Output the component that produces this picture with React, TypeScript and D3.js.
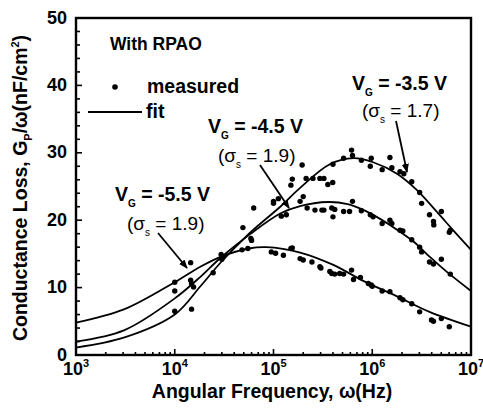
import React from "react";
import * as d3 from "d3";

// Fit curves: [angular frequency (Hz), Gp/ω (nF/cm²)]
const fit35: [number, number][] = [
  [1e3, 1.1], [3.1e3, 2.6], [1e4, 6.0], [1.82e4, 10.2], [2.95e4, 13.8], [5.75e4, 18.1],
  [1.17e5, 22.0], [1.86e5, 24.8], [3.72e5, 28.3], [6.46e5, 29.2], [1.02e6, 28.6],
  [1.78e6, 26.9], [2.82e6, 24.5], [4.47e6, 21.3], [6.61e6, 18.5], [1e7, 15.6],
];
const fit45: [number, number][] = [
  [1e3, 2.0], [3.1e3, 3.7], [1e4, 8.4], [1.82e4, 11.6], [2.95e4, 14.5], [5.75e4, 17.9],
  [1.17e5, 21.0], [1.86e5, 22.1], [3.55e5, 22.7], [5.62e5, 22.4], [7.94e5, 21.6],
  [1.2e6, 20.2], [1.78e6, 18.6], [2.63e6, 16.8], [3.8e6, 14.6], [5.62e6, 12.4], [1e7, 9.5],
];
const fit55: [number, number][] = [
  [1e3, 4.8], [3.1e3, 6.8], [1e4, 10.8], [1.82e4, 13.1], [2.95e4, 14.6], [5.62e4, 15.8],
  [8.5e4, 16.0], [1.86e5, 15.2], [3.98e5, 13.4], [8.1e5, 11.0], [1.78e6, 8.7],
  [3.8e6, 6.4], [1e7, 4.2],
];

// Measured points
const meas35: [number, number][] = [
  [1.0e4, 6.5], [1.48e4, 6.8], [2.45e4, 12.2], [3.0e4, 14.2], [4.9e4, 18.9], [6.3e4, 21.8],
  [1.0e5, 22.8], [1.12e5, 23.2], [1.5e5, 25.2], [1.55e5, 26.1], [1.95e5, 28.2], [2.0e5, 23.5],
  [2.14e5, 26.2], [2.51e5, 26.2], [2.95e5, 26.2], [3.24e5, 26.2], [3.55e5, 25.3], [3.98e5, 25.6],
  [4.0e5, 28.3], [5.13e5, 29.2], [6.17e5, 30.4], [6.31e5, 29.6], [7.76e5, 28.9], [9.55e5, 28.0],
  [9.77e5, 29.2], [1.26e6, 27.5], [1.51e6, 29.3], [1.58e6, 27.8], [1.91e6, 27.2], [2.09e6, 26.9],
  [2.51e6, 25.7], [3.02e6, 24.1], [3.16e6, 22.5], [3.8e6, 20.8], [4.17e6, 19.8], [4.2e6, 19.3],
  [5.01e6, 21.3], [6.03e6, 18.2], [6.17e6, 18.5],
];
const meas45: [number, number][] = [
  [1.0e4, 9.5], [1.45e4, 11.1], [1.48e4, 10.6], [1.55e4, 10.1], [3.1e4, 14.6], [5.9e4, 17.3],
  [6.0e4, 17.0], [1.0e5, 22.5], [1.2e5, 20.6], [1.35e5, 20.8], [1.86e5, 22.8], [2.19e5, 21.8],
  [2.63e5, 21.5], [3.09e5, 21.5], [3.24e5, 21.5], [3.89e5, 21.8], [4.0e5, 20.5], [4.17e5, 21.6],
  [5.13e5, 21.3], [5.89e5, 21.3], [6.31e5, 22.8], [7.76e5, 21.4], [9.55e5, 20.8], [1.02e6, 20.5],
  [1.26e6, 19.5], [1.51e6, 20.0], [1.58e6, 19.5], [1.91e6, 18.5], [2.04e6, 18.4], [2.51e6, 17.1],
  [3.02e6, 16.0], [3.16e6, 15.3], [3.8e6, 13.8], [4.17e6, 13.5], [5.01e6, 14.2], [6.17e6, 12.0],
];
const meas55: [number, number][] = [
  [1.0e4, 10.8], [1.45e4, 13.7], [2.95e4, 14.9], [4.8e4, 15.6], [5.5e4, 15.8], [9.5e4, 15.3],
  [1.05e5, 15.1], [1.26e5, 14.8], [1.5e5, 15.8], [1.55e5, 15.9], [1.86e5, 14.3], [2.0e5, 14.1],
  [2.45e5, 13.8], [2.95e5, 13.1], [3.02e5, 12.9], [3.72e5, 12.4], [3.89e5, 12.1], [4.17e5, 12.0],
  [4.68e5, 12.1], [5.13e5, 12.0], [6.17e5, 12.6], [6.46e5, 11.2], [7.59e5, 11.5], [9.12e5, 10.6],
  [9.77e5, 10.4], [1.0e6, 10.2], [1.26e6, 9.5], [1.51e6, 9.4], [1.91e6, 8.5], [2.04e6, 8.2],
  [2.51e6, 7.6], [3.02e6, 6.4], [3.98e6, 5.2], [4.17e6, 5.0], [5.01e6, 5.4], [6.03e6, 4.2],
];

const xDecades = [1e3, 1e4, 1e5, 1e6, 1e7];
const xExponents = ["3", "4", "5", "6", "7"];
const yTicks = [0, 10, 20, 30, 40, 50];

const FONT = "'Liberation Sans', Arial, sans-serif";

export default function App() {
  const left = 76, right = 471, top = 18, bottom = 355;
  const x = d3.scaleLog().domain([1e3, 1e7]).range([left, right]);
  const y = d3.scaleLinear().domain([0, 50]).range([bottom, top]);

  const line = d3
    .line<[number, number]>()
    .x((d) => x(d[0]))
    .y((d) => y(d[1]))
    .curve(d3.curveCatmullRom.alpha(0.5));

  const minorX: number[] = [];
  for (let e = 3; e < 7; e++) {
    for (let m = 2; m <= 9; m++) minorX.push(m * Math.pow(10, e));
  }
  const minorY = d3.range(0, 51, 2).filter((v) => v % 10 !== 0);

  const allPts = [...meas35, ...meas45, ...meas55];

  const arrows = [
    [396, 121, 407, 172],
    [260, 165, 289, 208],
    [158, 233, 187, 268],
  ];

  return (
    <svg
      width={483}
      height={413}
      style={{ position: "absolute", left: 0, top: 0, background: "#fff" }}
      fontFamily={FONT}
    >
      <defs>
        <marker id="ah" viewBox="0 0 10 10" refX="9" refY="5" markerWidth="5" markerHeight="5" orient="auto">
          <path d="M0,1 L10,5 L0,9 z" fill="#000" />
        </marker>
      </defs>
      <rect x={0} y={0} width={483} height={413} fill="#fff" />
      {/* ticks */}
      {xDecades.map((v, i) => (
        <line key={"xM" + i} x1={x(v)} x2={x(v)} y1={bottom} y2={bottom - 6} stroke="#000" strokeWidth={1.6} />
      ))}
      {minorX.map((v, i) => (
        <line key={"xm" + i} x1={x(v)} x2={x(v)} y1={bottom} y2={bottom - 3} stroke="#000" strokeWidth={1.6} />
      ))}
      {yTicks.map((v, i) => (
        <line key={"yM" + i} x1={left} x2={left + 6} y1={y(v)} y2={y(v)} stroke="#000" strokeWidth={1.6} />
      ))}
      {minorY.map((v, i) => (
        <line key={"ym" + i} x1={left} x2={left + 4} y1={y(v)} y2={y(v)} stroke="#000" strokeWidth={1.6} />
      ))}
      {/* fit curves */}
      {[fit35, fit45, fit55].map((s, i) => (
        <path key={"f" + i} d={line(s) || ""} fill="none" stroke="#000" strokeWidth={1.8} />
      ))}
      {/* measured points */}
      {allPts.map((d, i) => (
        <circle key={"p" + i} cx={x(d[0])} cy={y(d[1])} r={2.7} fill="#000" />
      ))}
      {/* frame */}
      <rect x={left} y={top} width={right - left} height={bottom - top} fill="none" stroke="#000" strokeWidth={2.4} />

      {/* tick labels */}
      {xDecades.map((v, i) => (
        <text key={"xl" + i} x={x(v)} y={375} textAnchor="middle" fontSize={18} fontWeight="bold">
          10
          <tspan fontSize={11} dy={-8}>
            {xExponents[i]}
          </tspan>
        </text>
      ))}
      {yTicks.map((v, i) => (
        <text key={"yl" + i} x={67} y={y(v) + 5.5} textAnchor="end" fontSize={18} fontWeight="bold">
          {v}
        </text>
      ))}

      {/* axis titles */}
      <text x={272} y={398} textAnchor="middle" fontSize={19.5} fontWeight="bold">
        Angular Frequency, ω(Hz)
      </text>
      <text transform="translate(27,188) rotate(-90)" textAnchor="middle" fontSize={19.5} fontWeight="bold">
        Conductance Loss, G
        <tspan fontSize={11} dy={5}>P</tspan>
        <tspan dy={-5}>/ω(nF/cm</tspan>
        <tspan fontSize={11} dy={-8}>2</tspan>
        <tspan dy={8}>)</tspan>
      </text>

      {/* legend */}
      <text x={110} y={50} fontSize={17.5} fontWeight="bold">With RPAO</text>
      <circle cx={115} cy={87} r={2.8} fill="#000" />
      <text x={147} y={93} fontSize={19.5} fontWeight="bold">measured</text>
      <line x1={88} x2={142} y1={112} y2={112} stroke="#000" strokeWidth={1.8} />
      <text x={146} y={118} fontSize={19.5} fontWeight="bold">fit</text>

      {/* annotations */}
      {[
        { vx: 352, vy: 90, v: "-3.5 V", sx: 362, sy: 117, s: "1.7" },
        { vx: 208, vy: 133, v: "-4.5 V", sx: 218, sy: 162, s: "1.9" },
        { vx: 115, vy: 201, v: "-5.5 V", sx: 127, sy: 230, s: "1.9" },
      ].map((a, i) => (
        <g key={"a" + i}>
          <text x={a.vx} y={a.vy} fontSize={19.5} fontWeight="bold">
            V<tspan fontSize={10} dy={6}>G</tspan>
            <tspan dy={-6}> = {a.v}</tspan>
          </text>
          <text x={a.sx} y={a.sy} fontSize={19}>
            (σ<tspan fontSize={10} dy={6}>s</tspan>
            <tspan dy={-6}> = {a.s})</tspan>
          </text>
        </g>
      ))}
      {arrows.map((a, i) => (
        <line key={"ar" + i} x1={a[0]} y1={a[1]} x2={a[2]} y2={a[3]} stroke="#000" strokeWidth={1.8} markerEnd="url(#ah)" />
      ))}
    </svg>
  );
}
